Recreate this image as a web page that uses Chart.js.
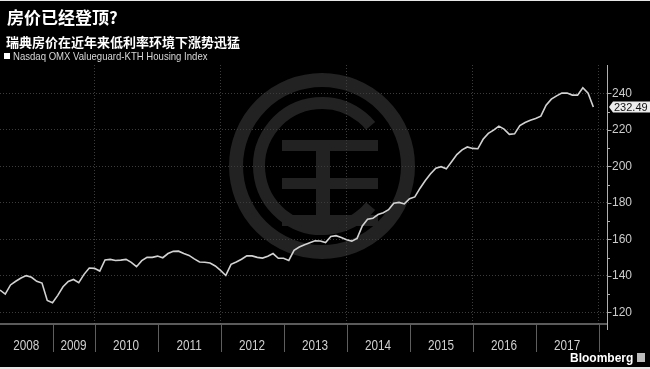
<!DOCTYPE html>
<html><head><meta charset="utf-8">
<script src="https://cdn.jsdelivr.net/npm/chart.js@4/dist/chart.umd.min.js"></script>
<style>html,body{margin:0;padding:0;background:#000;overflow:hidden}canvas{display:block}</style>
</head><body>
<canvas id="c" width="650" height="369"></canvas>
<script>
const titleText = '房价已经登顶?';
const subtitleText = '瑞典房价在近年来低利率环境下涨势迅猛';
const seriesName = 'Nasdaq OMX Valueguard-KTH Housing Index';
const yearLabels = ['2008','2009','2010','2011','2012','2013','2014','2015','2016','2017'];
const yearEdges = [0,10,18,30,42,54,66,78,90,102,114];
const gridMonths = [18,42,66,90,114];
const yTicks = [120,140,160,180,200,220,240];
const yMinorTicks = [130,150,170,190,210,230];
const indexValues = [
 132.2,130,135,137,138.8,140.1,139.2,137,136,126.5,
 125.3,129.3,134,136.9,138,136.3,140.8,144.3,144.1,142.6,
 148.7,149,148.4,148.6,149,147.4,145,148.3,150.1,150.1,
 150.8,149.9,152.2,153.4,153.5,152.2,151.2,149.3,147.6,147.4,
 147,145.4,143,140.2,146.3,147.6,149.1,151,150.9,150.1,
 149.7,150.7,152.2,149.6,149.6,148.4,154,155.8,157,158.1,
 159.2,159.1,158.2,161.5,162,161,159.8,159,160.5,167.3,
 171,171.5,173.6,174.6,176.2,179.8,180.2,179.4,182.2,183.2,
 188,192.2,195.9,199,199.8,198.6,202.5,206.4,209,210.6,
 209.8,209.6,214.8,218,219.8,222,220.4,217.5,217.8,222.3,
 224,225.2,226.2,227.5,233.5,236.8,238.6,240.1,240.1,239,
 239,243,240,232.49
];

const sans = '"Liberation Sans",Arial,sans-serif';
const cjk = '"Noto Sans CJK SC","Noto Sans",sans-serif';

function narrowText(ctx, text, x, y, sx){
  ctx.save();
  ctx.translate(x, y);
  ctx.scale(sx, 1);
  ctx.fillText(text, 0, 0);
  ctx.restore();
}

const decor = {
  id:'decor',
  beforeDraw(chart){
    const ctx = chart.ctx;
    ctx.save();
    ctx.fillStyle = '#000';
    ctx.fillRect(0,0,chart.width,chart.height);
    // watermark
    ctx.strokeStyle = '#222';
    ctx.fillStyle = '#222';
    const cx = 322, cy = 166;
    ctx.lineWidth = 14;
    ctx.beginPath(); ctx.arc(cx,cy,86,0,Math.PI*2); ctx.stroke();
    ctx.lineWidth = 12;
    ctx.beginPath(); ctx.arc(cx,cy,63,Math.PI*0.22,Math.PI*1.78); ctx.stroke();
    ctx.fillRect(282,140,96,11);
    ctx.fillRect(282,178,96,11);
    ctx.fillRect(282,215,96,11);
    ctx.fillRect(316,140,14,86);
    ctx.restore();
  },
  afterDraw(chart){
    const ctx = chart.ctx, a = chart.chartArea;
    const xs = chart.scales.x, ys = chart.scales.y;
    ctx.save();
    ctx.fillStyle = '#e6e6e6';
    ctx.fillRect(0,0,chart.width,1);
    ctx.fillRect(0,chart.height-2,chart.width,2);
    // titles
    ctx.fillStyle = '#fff';
    ctx.textBaseline = 'middle';
    ctx.textAlign = 'left';
    ctx.font = 'bold 17px ' + cjk;
    ctx.fillText(titleText, 7, 18);
    ctx.font = 'bold 13px ' + cjk;
    ctx.fillText(subtitleText, 6, 42);
    ctx.fillRect(4,53,6,6);
    ctx.fillStyle = '#d8d8d8';
    ctx.font = '11px ' + sans;
    narrowText(ctx, seriesName, 13, 57, 0.87);
    // x baseline and year bands
    ctx.strokeStyle = '#7a7a7a';
    ctx.lineWidth = 1.5;
    ctx.beginPath(); ctx.moveTo(0,a.bottom); ctx.lineTo(a.right,a.bottom); ctx.stroke();
    ctx.strokeStyle = '#5e5e5e';
    ctx.lineWidth = 1;
    for (let i=1;i<yearEdges.length;i++){
      const x = Math.round(xs.getPixelForValue(yearEdges[i]))+0.5;
      ctx.beginPath(); ctx.moveTo(x,a.bottom); ctx.lineTo(x,a.bottom+28); ctx.stroke();
    }
    ctx.fillStyle = '#cfcfcf';
    ctx.font = '14px ' + sans;
    ctx.textAlign = 'center';
    for (let i=0;i<yearLabels.length;i++){
      const x = (xs.getPixelForValue(yearEdges[i]) + xs.getPixelForValue(yearEdges[i+1]))/2;
      narrowText(ctx, yearLabels[i], x, a.bottom+22, 0.84);
    }
    // y axis line and ticks
    const ax = a.right + 0.5;
    ctx.strokeStyle = '#b0b0b0';
    ctx.lineWidth = 1;
    ctx.beginPath(); ctx.moveTo(ax,a.top); ctx.lineTo(ax,a.bottom+6); ctx.stroke();
    yTicks.forEach(v=>{ const y=Math.round(ys.getPixelForValue(v))+0.5; ctx.beginPath(); ctx.moveTo(ax,y); ctx.lineTo(ax+4,y); ctx.stroke(); });
    yMinorTicks.forEach(v=>{ const y=Math.round(ys.getPixelForValue(v))+0.5; ctx.beginPath(); ctx.moveTo(ax,y); ctx.lineTo(ax+2.5,y); ctx.stroke(); });
    // last value tag
    const last = indexValues[indexValues.length-1];
    const ly = ys.getPixelForValue(last);
    ctx.fillStyle = '#ececec';
    ctx.beginPath();
    ctx.moveTo(a.right+2, ly);
    ctx.lineTo(a.right+6, ly-5.5);
    ctx.lineTo(chart.width, ly-5.5);
    ctx.lineTo(chart.width, ly+5.5);
    ctx.lineTo(a.right+6, ly+5.5);
    ctx.closePath(); ctx.fill();
    ctx.fillStyle = '#111';
    ctx.textAlign = 'left';
    ctx.font = '11px ' + sans;
    ctx.fillText(last.toFixed(2), a.right+7, ly+0.5);
    // Bloomberg mark
    ctx.fillStyle = '#fff';
    ctx.font = 'bold 12px ' + sans;
    ctx.fillText('Bloomberg', 570, 359);
    ctx.fillStyle = '#bbb';
    ctx.fillRect(637,353,8,9);
    ctx.restore();
  }
};

new Chart(document.getElementById('c'), {
  type:'line',
  data:{
    datasets:[{
      label: seriesName,
      data: indexValues.map((v,i)=>({x:i,y:v})),
      borderColor:'#d2d2d2',
      borderWidth:1.6,
      pointRadius:0,
      tension:0,
      fill:false
    }]
  },
  options:{
    responsive:false,
    animation:false,
    devicePixelRatio:1,
    layout:{padding:{top:65,bottom:45,left:0,right:0}},
    plugins:{legend:{display:false},tooltip:{enabled:false},title:{display:false}},
    scales:{
      x:{
        type:'linear', min:0, max:115.6,
        afterBuildTicks(s){ s.ticks = gridMonths.map(v=>({value:v})); },
        ticks:{display:false},
        grid:{color:'#3c3c3c',lineWidth:1,drawTicks:false},
        border:{display:false,dash:[1,2]}
      },
      y:{
        position:'right', min:113.6, max:255.5,
        afterBuildTicks(s){ s.ticks = yTicks.map(v=>({value:v})); },
        afterFit(s){ s.width = 43; },
        ticks:{color:'#cccccc',padding:5,font:{size:12,family:sans}},
        grid:{color:'#3c3c3c',lineWidth:1,drawTicks:false},
        border:{display:false,dash:[1,2]}
      }
    }
  },
  plugins:[decor]
});
</script>
</body></html>
